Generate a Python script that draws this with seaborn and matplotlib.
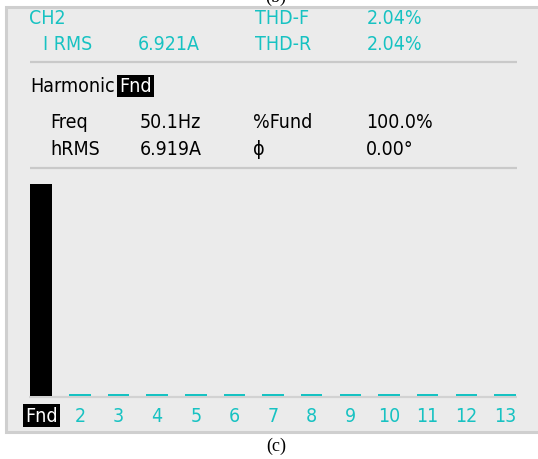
import matplotlib
matplotlib.use("Agg")
import matplotlib.pyplot as plt
from matplotlib.patches import Rectangle
import pandas as pd
import seaborn as sns

# Harmonic spectrum of channel 2 (percent of fundamental)
harmonics = ["Fnd", "2", "3", "4", "5", "6", "7", "8", "9", "10", "11", "12", "13"]
percent_fund = [100.0, 0.9, 0.9, 0.9, 0.9, 0.9, 0.9, 0.9, 0.9, 0.9, 0.9, 0.9, 0.9]

# Readout fields
header_rows = [("CH2", "", "THD-F", "2.04%"),
               ("I RMS", "6.921A", "THD-R", "2.04%")]
detail_rows = [("Freq", "50.1Hz", "%Fund", "100.0%"),
               ("hRMS", "6.919A", "ϕ", "0.00°")]

CYAN = "#17c2c2"
PANEL = "#ebebeb"
EDGE = "#cfcfcf"

sns.set_theme(style="white")
plt.rcParams["font.family"] = ["DejaVu Sans"]
plt.rcParams["font.stretch"] = "condensed"

W, H = 538, 460
fig = plt.figure(figsize=(W / 100, H / 100), dpi=100)
fig.patch.set_facecolor("white")

# Background layer in pixel coordinates
bg = fig.add_axes([0, 0, 1, 1], zorder=0)
bg.set_xlim(0, W)
bg.set_ylim(H, 0)
bg.axis("off")
bg.add_patch(Rectangle((6, 8), 560, 425, facecolor=PANEL, edgecolor=EDGE, lw=2.2))
for y in (63, 169):
    bg.plot([30, 517], [y, y], color="#c9c9c9", lw=1.6, solid_capstyle="butt")
bg.plot([29, 517], [397.8, 397.8], color="#d2d2d2", lw=1.6, solid_capstyle="butt")

fs = 14
cols = [29, 138, 255, 367]
for (a, b, c, d), y in zip(header_rows, (19, 44)):
    x0 = cols[0] if a == "CH2" else 43
    bg.text(x0, y, a, color=CYAN, fontsize=fs, va="center", ha="left")
    bg.text(cols[1], y, b, color=CYAN, fontsize=fs, va="center", ha="left")
    bg.text(cols[2], y, c, color=CYAN, fontsize=fs, va="center", ha="left")
    bg.text(cols[3], y, d, color=CYAN, fontsize=fs, va="center", ha="left")

bg.text(30, 87, "Harmonic", color="black", fontsize=fs, va="center", ha="left")
bg.text(119, 87, "Fnd", color="white", fontsize=fs, va="center", ha="left",
        bbox=dict(boxstyle="square,pad=0.1", facecolor="black", edgecolor="none"))

dcols = [50, 140, 253, 366]
for row, y in zip(detail_rows, (123, 150)):
    for x, s in zip(dcols, row):
        bg.text(x, y, s, color="black", fontsize=fs, va="center", ha="left")

# Caption and clipped caption of the panel above
bg.text(276, 446, "(c)", color="black", fontsize=13, va="center", ha="center",
        family="Liberation Serif", stretch="normal")
bg.text(276, -3, "(b)", color="black", fontsize=13, va="center", ha="center",
        family="Liberation Serif", stretch="normal")

# Bar chart
spacing = (505 - 41.2) / 12
left_px = 41.2 - 0.5 * spacing
right_px = 505 + 0.5 * spacing
base_px, top_px = 397.2, 170.0
ax = fig.add_axes([left_px / W, 1 - base_px / H, (right_px - left_px) / W,
                   (base_px - top_px) / H], zorder=1)
ax.patch.set_alpha(0)

df = pd.DataFrame({"harmonic": harmonics, "pct": percent_fund})
sns.barplot(data=df, x="harmonic", y="pct", hue="harmonic",
            palette=["black"] + [CYAN] * 12, width=0.554, legend=False,
            saturation=1, ax=ax, linewidth=0)
ax.set_xlim(-0.5, 12.5)
ax.set_ylim(0, 100 * (base_px - top_px) / (base_px - 185))
ax.set_xlabel("")
ax.set_ylabel("")
ax.set_yticks([])
for s in ax.spines.values():
    s.set_visible(False)
ax.tick_params(axis="x", length=0, pad=7)
ax.set_xticks(range(len(harmonics)))
ax.set_xticklabels(harmonics, fontsize=fs, color=CYAN)
first = ax.get_xticklabels()[0]
first.set_color("white")
first.set_bbox(dict(boxstyle="square,pad=0.12", facecolor="black", edgecolor="none"))

fig.savefig("out.png", dpi=100, facecolor="white")
